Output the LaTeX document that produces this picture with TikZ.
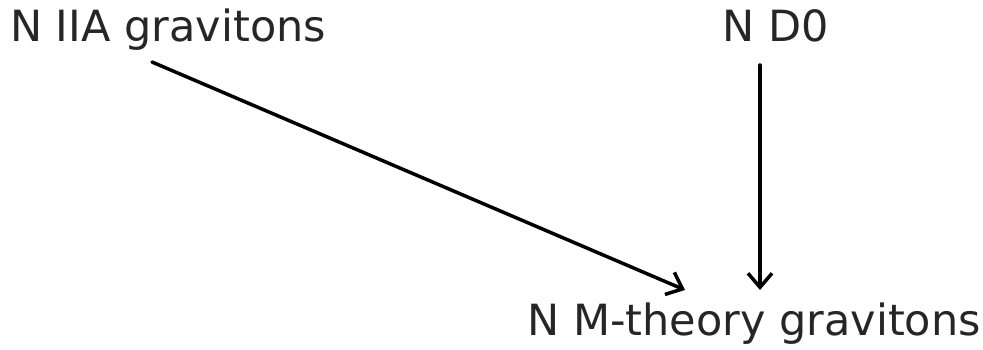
\documentclass[tikz,border=0pt]{standalone}
\usepackage{fontspec}
\setmainfont{DejaVu Sans}
\usetikzlibrary{arrows.meta}
\begin{document}
\begin{tikzpicture}[x=1pt,y=-1pt,
  lbl/.style={inner sep=0pt,text=black!85,font=\fontsize{43}{48}\selectfont},
  conn/.style={line width=3.5pt,line cap=round,-{Straight Barb[length=14pt,width=24pt,line width=3.5pt]}}]
\useasboundingbox (0,0) rectangle (983,350);
\node[lbl,anchor=base west] (iia) at (10,42) {N IIA gravitons};
\node[lbl,anchor=base west] (d0) at (722,42) {N D0};
\node[lbl,anchor=base west] (m) at (527,335) {N M-theory gravitons};
\coordinate (s1) at (152,62);
\coordinate (e1) at (685,290);
\coordinate (s2) at (760,65);
\coordinate (e2) at (760,290);
\draw[conn] (s1) -- (e1);
\draw[conn] (s2) -- (e2);
\end{tikzpicture}
\end{document}
